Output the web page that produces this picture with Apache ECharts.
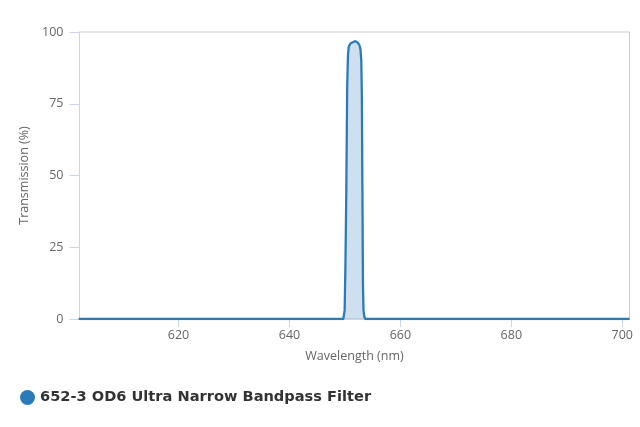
<!DOCTYPE html>
<html>
<head>
<meta charset="utf-8">
<script src="https://cdn.jsdelivr.net/npm/echarts@6/dist/echarts.min.js"></script>
<style>
html,body{margin:0;padding:0;background:#fff;}
#chart{width:640px;height:427px;}
</style>
</head>
<body>
<div id="chart"></div>
<script>
const seriesName = '652-3 OD6 Ultra Narrow Bandpass Filter';
const wavelengths = [602, 620, 640, 649.0, 649.7, 649.95, 650.1, 650.25, 650.4, 650.55, 650.7, 651.0, 651.5, 651.9, 652.3, 652.6, 652.8, 652.95, 653.05, 653.15, 653.25, 653.35, 653.5, 653.7, 655, 670, 690, 701.3];
const transmission = [0, 0, 0, 0, 0, 3, 20, 45, 80, 92, 95, 96, 96.5, 96.8, 96.3, 95.5, 94, 90, 78, 45, 12, 3, 0.8, 0, 0, 0, 0, 0];
const xTicks = [620, 640, 660, 680, 700];
const yTicks = [0, 25, 50, 75, 100];

const data = wavelengths.map((w, i) => [w, transmission[i]]);
const chart = echarts.init(document.getElementById('chart'));
const axisFont = 'Open Sans, Lato, sans-serif';
chart.setOption({
  animation: false,
  grid: {left: 79.5, right: 10.5, top: 32, bottom: 108, show: true, borderColor: '#cccccc', borderWidth: 1},
  legend: {
    left: 15, top: 385, icon: 'circle', itemWidth: 15, itemHeight: 15,
    textStyle: {fontFamily: 'DejaVu Sans, sans-serif', fontWeight: 'bold', fontSize: 14.6, color: '#333333'},
    data: [seriesName]
  },
  xAxis: {
    type: 'value', min: 602.15, max: 701.3,
    name: 'Wavelength (nm)', nameLocation: 'middle', nameGap: 31,
    nameTextStyle: {fontFamily: axisFont, fontSize: 12.5, color: '#666666'},
    axisLine: {show: true, lineStyle: {color: '#ccd6eb'}},
    axisTick: {show: true, length: 8, lineStyle: {color: '#ccd6eb'}, customValues: xTicks},
    axisLabel: {customValues: xTicks, margin: 10, fontFamily: axisFont, fontSize: 12.5, color: '#666666'},
    splitLine: {show: false}
  },
  yAxis: {
    type: 'value', min: 0, max: 100, interval: 25,
    name: 'Transmission (%)', nameLocation: 'middle', nameGap: 49, nameRotate: 90,
    nameTextStyle: {fontFamily: axisFont, fontSize: 12.5, color: '#666666'},
    axisLine: {show: true, lineStyle: {color: '#ccd6eb'}},
    axisTick: {show: true, length: 10, lineStyle: {color: '#ccd6eb'}},
    axisLabel: {margin: 16, fontFamily: axisFont, fontSize: 12.5, color: '#666666',
      formatter: v => yTicks.includes(v) ? String(v) : ''},
    splitLine: {show: false}
  },
  series: [{
    name: seriesName, type: 'line', data: data, showSymbol: false, smooth: false,
    color: '#2b7bb9',
    lineStyle: {width: 2.3, color: '#2b7bb9'},
    areaStyle: {color: 'rgba(43,123,185,0.33)'}
  }]
});
</script>
</body>
</html>
